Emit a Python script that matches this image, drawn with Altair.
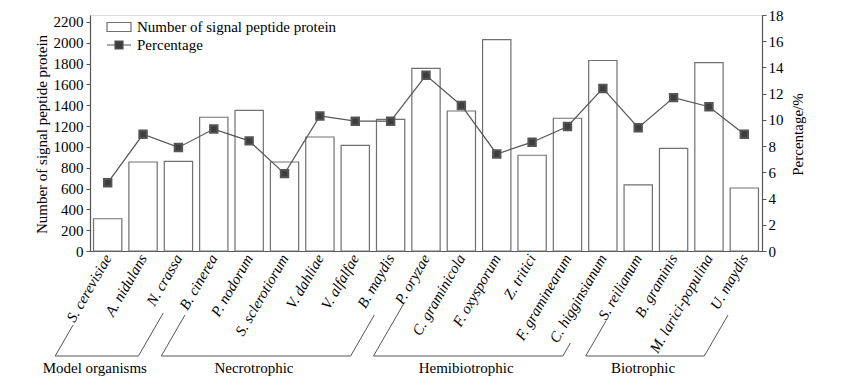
import altair as alt
import pandas as pd

# ---------------- data ----------------
species = ["S. cerevisiae", "A. nidulans", "N. crassa", "B. cinerea", "P. nodorum",
           "S. sclerotiorum", "V. dahliae", "V. alfalfae", "B. maydis", "P. oryzae",
           "C. graminicola", "F. oxysporum", "Z. tritici", "F. graminearum",
           "C. higginsianum", "S. reilianum", "B. graminis", "M. larici-populina", "U. maydis"]
signal_counts = [310, 855, 860, 1285, 1350, 855, 1095, 1015, 1265, 1755,
                 1345, 2030, 920, 1275, 1830, 635, 985, 1810, 605]
percentages = [5.2, 8.9, 7.9, 9.3, 8.4, 5.9, 10.3, 9.9, 9.9, 13.4,
               11.1, 7.4, 8.3, 9.5, 12.4, 9.4, 11.7, 11.0, 8.9]
left_ticks = list(range(0, 2201, 200))
right_ticks = list(range(0, 19, 2))
bar_series = "Number of signal peptide protein"
line_series = "Percentage"

groups = ["Model organisms", "Necrotrophic", "Hemibiotrophic", "Biotrophic"]
group_first = ["S. cerevisiae", "B. cinerea", "P. oryzae", "S. reilianum"]
group_last = ["N. crassa", "B. maydis", "C. higginsianum", "U. maydis"]

# ---------------- layout (annotation geometry, px) ----------------
W, H = 672, 236
STEP = W / len(species)
BOT = 341          # bracket baseline below plot top
LABEL_Y = 353
LEFT_OFF = -52.5
RIGHT_OFF = -40.0
SLOPE = 0.5774     # tan(30deg): brackets run parallel to the 60deg labels
slant_top_left = [310, 300, 290, 306]
slant_top_right = [298, 300, 328, 300]

SERIF = "Liberation Serif"
GRAY = "#555555"

df = pd.DataFrame({"species": species, "count": signal_counts, "pct": percentages})

seg_rows, text_rows = [], []
for g, f, l, tl, tr in zip(groups, group_first, group_last, slant_top_left, slant_top_right):
    i0, i1 = species.index(f), species.index(l)
    xl = i0 + 0.5 + LEFT_OFF / STEP
    xr = i1 + 0.5 + RIGHT_OFF / STEP
    seg_rows.append(dict(x=xl, x2=xl + (BOT - tl) * SLOPE / STEP, y=BOT, y2=tl))
    seg_rows.append(dict(x=xl, x2=xr, y=BOT, y2=BOT))
    seg_rows.append(dict(x=xr, x2=xr + (BOT - tr) * SLOPE / STEP, y=BOT, y2=tr))
    text_rows.append(dict(label=g, x=(xl + xr) / 2, y=LABEL_Y))
seg_df = pd.DataFrame(seg_rows)
text_df = pd.DataFrame(text_rows)

idx_scale = alt.Scale(domain=[0, len(species)], nice=False, zero=False)

base = alt.Chart(df).transform_calculate(
    bar_series=f"'{bar_series}'",
    line_series=f"'{line_series}'",
)

x_enc = alt.X("species:N", sort=species,
              scale=alt.Scale(paddingInner=0.2, paddingOuter=0.1),
              axis=alt.Axis(title=None, labelAngle=300, labelFont=SERIF, labelFontStyle="italic",
                            labelFontSize=15, labelColor="black", ticks=False,
                            domainColor=GRAY, domainWidth=1.2, labelPadding=4,
                            labelAlign="right", labelBaseline="middle", labelLimit=300))

bars = base.mark_bar(stroke="#707070", strokeWidth=1.2).encode(
    x=x_enc,
    y=alt.Y("count:Q", scale=alt.Scale(domain=[0, 2267], nice=False),
            axis=alt.Axis(values=left_ticks, format="d", title="Number of signal peptide protein",
                          labelFont=SERIF, labelFontSize=15, labelColor="black",
                          tickColor=GRAY, tickSize=4, domainColor=GRAY, domainWidth=1.2,
                          labelPadding=3, grid=False,
                          titleFont=SERIF, titleFontSize=15, titleFontWeight="normal",
                          titleColor="black", titleAngle=270, titleX=-49, titleY=119,
                          titleAlign="center", titleBaseline="middle")),
    fill=alt.Fill("bar_series:N",
                  scale=alt.Scale(range=["white"]),
                  legend=alt.Legend(title=None, orient="none", legendX=18, legendY=1,
                                    padding=0,
                                    symbolType="M-1.2,-0.45H1.2V0.45H-1.2Z",
                                    symbolSize=400, symbolStrokeColor="#707070",
                                    symbolStrokeWidth=1.2, labelFont=SERIF,
                                    labelFontSize=15, labelColor="black",
                                    labelOffset=7, labelLimit=400)),
)

line = base.mark_line(strokeWidth=1.2, point=alt.OverlayMarkDef(
    shape="square", size=55, filled=True, fill="#3d3d3d")).encode(
    x=alt.X("species:N", sort=species),
    y=alt.Y("pct:Q", scale=alt.Scale(domain=[0, 18], nice=False),
            axis=alt.Axis(orient="right", values=right_ticks, format="d", title="Percentage/%",
                          labelFont=SERIF, labelFontSize=15, labelColor="black",
                          tickColor=GRAY, tickSize=4, domainColor=GRAY, domainWidth=1.2,
                          labelPadding=2, grid=False,
                          titleFont=SERIF, titleFontSize=15, titleFontWeight="normal",
                          titleColor="black", titleAngle=270, titleX=35, titleY=119,
                          titleAlign="center", titleBaseline="middle")),
    stroke=alt.Stroke("line_series:N", scale=alt.Scale(range=[GRAY]),
                      legend=alt.Legend(title=None, orient="none", legendX=18, legendY=19,
                                        padding=0,
                                        symbolType="M-1.2,0H-0.4M0.4,0H1.2M-0.4,-0.4H0.4V0.4H-0.4Z",
                                        symbolSize=400, symbolFillColor="#3d3d3d",
                                        symbolStrokeWidth=1.2, labelFont=SERIF,
                                        labelFontSize=15, labelColor="black",
                                        labelOffset=7)),
)

inner = alt.layer(bars, line).resolve_scale(y="independent")

brackets = alt.Chart(seg_df).mark_rule(color=GRAY, strokeWidth=1).encode(
    x=alt.X("x:Q", scale=idx_scale, axis=None),
    x2="x2:Q",
    y=alt.Y("y:Q", scale=None),
    y2="y2:Q",
)

group_text = alt.Chart(text_df).mark_text(font=SERIF, fontSize=15, color="black",
                                          baseline="middle", dx=-2).encode(
    x=alt.X("x:Q", scale=idx_scale, axis=None),
    y=alt.Y("y:Q", scale=None),
    text="label:N",
)

chart = alt.layer(inner, brackets, group_text).resolve_scale(
    x="independent", y="independent"
).properties(
    width=W, height=H,
    autosize=alt.AutoSizeParams(type="none"),
    padding={"left": 82, "top": 7, "right": 71, "bottom": 127},
).configure_view(stroke=None).configure(background="white")

chart.save("out.html", embed_options={"renderer": "svg", "actions": False})
